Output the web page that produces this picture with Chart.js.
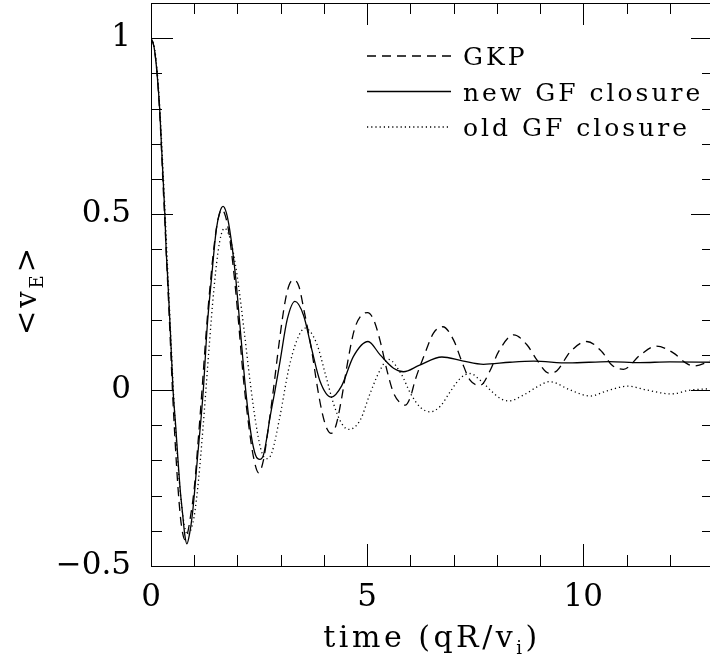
<!DOCTYPE html>
<html>
<head>
<meta charset="utf-8">
<script src="https://cdn.jsdelivr.net/npm/chart.js@4.4.1/dist/chart.umd.min.js"></script>
<style>
  html, body { margin: 0; padding: 0; background: #fff; overflow: hidden; }
  #wrap { width: 720px; height: 664px; }
</style>
</head>
<body>
<div id="wrap"><canvas id="plot" width="720" height="664"></canvas></div>
<script>
// values: time (qR/v_i) and <v_E>
const gkpTime = [
  0, 0.07, 0.14, 0.2, 0.24, 0.28, 0.32, 0.36, 0.41, 0.45,
  0.5, 0.56, 0.62, 0.68, 0.73, 0.78, 0.84, 0.9, 1.0, 1.1,
  1.18, 1.28, 1.37, 1.46, 1.55, 1.64, 1.72, 1.8, 1.93, 2.02,
  2.14, 2.25, 2.37, 2.49, 2.6, 2.7, 2.83, 2.97, 3.1, 3.2,
  3.31, 3.42, 3.55, 3.7, 3.86, 3.97, 4.07, 4.17, 4.28, 4.4,
  4.55, 4.7, 4.85, 5.01, 5.15, 5.3, 5.45, 5.6, 5.75, 5.88,
  6.0, 6.11, 6.34, 6.53, 6.75, 7.0, 7.19, 7.38, 7.62, 7.85,
  8.04, 8.39, 8.7, 8.93, 9.2, 9.39, 9.7, 10.08, 10.43, 10.66,
  10.93, 11.32, 11.69, 12.09, 12.36, 12.55, 12.9, 13
];
const gkpValue = [
  1.0, 0.975, 0.9, 0.79, 0.69, 0.58, 0.48, 0.37, 0.24, 0.13,
  -0.01, -0.15, -0.27, -0.36, -0.405, -0.425, -0.41, -0.37, -0.28, -0.13,
  0, 0.17, 0.3, 0.41, 0.485, 0.513, 0.495, 0.449, 0.318, 0.2,
  0.03, -0.09, -0.19, -0.235, -0.2, -0.12, 0, 0.14, 0.25, 0.3,
  0.313, 0.295, 0.22, 0.125, 0, -0.07, -0.11, -0.123, -0.1, -0.03,
  0.08, 0.17, 0.21, 0.22, 0.2, 0.14, 0.06, -0.005, -0.035, -0.043,
  -0.02, 0.028, 0.105, 0.161, 0.18, 0.142, 0.081, 0.028, 0.014, 0.057,
  0.109, 0.157, 0.128, 0.085, 0.048, 0.055, 0.109, 0.138, 0.109, 0.071,
  0.059, 0.1, 0.125, 0.105, 0.078, 0.068, 0.081, 0.086
];

const newTime = [
  0, 0.07, 0.14, 0.2, 0.24, 0.28, 0.32, 0.35, 0.39, 0.45,
  0.51, 0.57, 0.625, 0.68, 0.73, 0.78, 0.83, 0.89, 0.96, 1.07,
  1.21, 1.3, 1.4, 1.51, 1.59, 1.667, 1.74, 1.82, 1.95, 2.06,
  2.19, 2.32, 2.42, 2.52, 2.6, 2.67, 2.75, 2.87, 2.99, 3.15,
  3.33, 3.53, 3.72, 3.91, 4.17, 4.41, 4.68, 5.02, 5.3, 5.61,
  5.84, 6.2, 6.73, 7.2, 7.69, 8.3, 8.85, 9.66, 10.6, 11.3,
  12.0, 13.0
];
const newValue = [
  1.0, 0.975, 0.9, 0.8, 0.7, 0.6, 0.5, 0.4, 0.31, 0.16,
  0, -0.1, -0.2, -0.29, -0.35, -0.41, -0.437, -0.41, -0.35, -0.2,
  0, 0.18, 0.318, 0.456, 0.505, 0.522, 0.505, 0.456, 0.33, 0.18,
  0, -0.13, -0.185, -0.197, -0.185, -0.142, -0.08, 0, 0.085, 0.2,
  0.252, 0.212, 0.115, 0.025, -0.02, 0.012, 0.095, 0.138, 0.1, 0.062,
  0.052, 0.07, 0.094, 0.083, 0.073, 0.079, 0.082, 0.077, 0.081, 0.078,
  0.08, 0.079
];

const oldTime = [
  0, 0.07, 0.14, 0.2, 0.24, 0.28, 0.32, 0.36, 0.41, 0.47,
  0.53, 0.6, 0.67, 0.74, 0.8, 0.87, 0.94, 1.0, 1.1, 1.2,
  1.27, 1.35, 1.45, 1.55, 1.62, 1.7, 1.78, 1.87, 2.0, 2.15,
  2.3, 2.45, 2.57, 2.68, 2.79, 2.99, 3.18, 3.37, 3.56, 3.83,
  4.03, 4.22, 4.41, 4.58, 4.84, 5.07, 5.3, 5.49, 5.8, 6.0,
  6.23, 6.46, 6.69, 6.92, 7.15, 7.38, 7.65, 7.89, 8.08, 8.27,
  8.62, 8.93, 9.22, 9.7, 10.16, 10.55, 11.03, 11.47, 12.03, 12.48,
  13
];
const oldValue = [
  1.0, 0.98, 0.91, 0.81, 0.72, 0.62, 0.52, 0.41, 0.28, 0.12,
  -0.03, -0.17, -0.28, -0.36, -0.4, -0.41, -0.39, -0.358, -0.255, -0.112,
  0, 0.131, 0.28, 0.392, 0.44, 0.46, 0.448, 0.412, 0.319, 0.173,
  0.017, -0.113, -0.18, -0.195, -0.18, -0.07, 0.057, 0.14, 0.176, 0.133,
  0.047, -0.038, -0.095, -0.112, -0.085, -0.009, 0.057, 0.087, 0.043, -0.009,
  -0.049, -0.062, -0.046, -0.005, 0.033, 0.047, 0.024, -0.005, -0.024, -0.031,
  -0.014, 0.009, 0.024, 0, -0.017, -0.002, 0.011, 0, -0.011, 0,
  0.004
];

const seriesLabels = ["GKP", "new GF closure", "old GF closure"];
const xTickLabels = [0, 5, 10];
const yTickLabels = [-0.5, 0, 0.5, 1];

const FONT = '"DejaVu Serif", "Liberation Serif", serif';

function toPoints(times, values) {
    return times.map((t, i) => ({ x: t, y: values[i] }));
}

function lineSet(label, times, values, dash) {
    return {
        label: label,
        data: toPoints(times, values),
        borderColor: "#000",
        borderWidth: 1.3,
        borderDash: dash,
        pointRadius: 0,
        cubicInterpolationMode: "monotone",
        fill: false
    };
}

// draws text pieces one after another, pieces may be lowered (subscripts)
function drawPieces(ctx, pieces, x, y) {
    let cx = x;
    pieces.forEach(p => {
        ctx.font = p.size + "px " + FONT;
        ctx.fillText(p.text, cx, y + (p.dy || 0));
        cx += ctx.measureText(p.text).width;
    });
}

function piecesWidth(ctx, pieces) {
    let w = 0;
    pieces.forEach(p => {
        ctx.font = p.size + "px " + FONT;
        w += ctx.measureText(p.text).width;
    });
    return w;
}

// keep the plot box where the figure has it: no room kept for edge labels
function noEdgePadding(s) {
    s.paddingTop = 0;
    s.paddingBottom = 0;
    s.paddingLeft = 0;
    s.paddingRight = 0;
}

const framePlugin = {
    id: "frame",
    afterDraw(chart) {
        const ctx = chart.ctx;
        const area = chart.chartArea;
        const xs = chart.scales.x;
        const ys = chart.scales.y;

        ctx.save();
        ctx.strokeStyle = "#000";
        ctx.lineWidth = 1;
        ctx.strokeRect(area.left + 0.5, area.top + 0.5, area.right - area.left, area.bottom - area.top);

        // inward ticks on all four sides
        xs.ticks.forEach(t => {
            const px = Math.round(xs.getPixelForValue(t.value)) + 0.5;
            const len = xTickLabels.includes(t.value) ? 22 : 11;
            ctx.beginPath();
            ctx.moveTo(px, area.bottom);
            ctx.lineTo(px, area.bottom - len);
            ctx.moveTo(px, area.top);
            ctx.lineTo(px, area.top + len);
            ctx.stroke();
        });
        ys.ticks.forEach(t => {
            const py = Math.round(ys.getPixelForValue(t.value)) + 0.5;
            const major = yTickLabels.some(v => Math.abs(v - t.value) < 1e-6);
            const len = major ? 22 : 11;
            ctx.beginPath();
            ctx.moveTo(area.left, py);
            ctx.lineTo(area.left + len, py);
            ctx.moveTo(area.right, py);
            ctx.lineTo(area.right - len, py);
            ctx.stroke();
        });

        // legend
        ctx.fillStyle = "#000";
        ctx.letterSpacing = "3px";
        chart.data.datasets.forEach((ds, i) => {
            const y = 56 + i * 35.5;
            ctx.save();
            ctx.lineWidth = ds.borderWidth;
            ctx.setLineDash(ds.borderDash);
            ctx.beginPath();
            ctx.moveTo(367, y);
            ctx.lineTo(451, y);
            ctx.stroke();
            ctx.restore();
            ctx.font = "25px " + FONT;
            ctx.textBaseline = "alphabetic";
            ctx.textAlign = "left";
            ctx.fillText(ds.label, 463, y + 9);
        });

        // x title
        ctx.letterSpacing = "3.5px";
        const xt = [
            { text: "time (qR/v", size: 30 },
            { text: "i", size: 18, dy: 7 },
            { text: ")", size: 30 }
        ];
        const cxMid = (area.left + area.right) / 2;
        drawPieces(ctx, xt, cxMid - piecesWidth(ctx, xt) / 2, 647);

        // y title, rotated
        ctx.letterSpacing = "3px";
        const yt = [
            { text: "<v", size: 29 },
            { text: "E", size: 18, dy: 7 },
            { text: ">", size: 29 }
        ];
        ctx.save();
        ctx.translate(36, 290);
        ctx.rotate(-Math.PI / 2);
        drawPieces(ctx, yt, -piecesWidth(ctx, yt) / 2, 0);
        ctx.restore();
        ctx.restore();
    }
};

new Chart(document.getElementById("plot"), {
    type: "line",
    data: {
        datasets: [
            lineSet(seriesLabels[0], gkpTime, gkpValue, [9, 6]),
            lineSet(seriesLabels[1], newTime, newValue, []),
            lineSet(seriesLabels[2], oldTime, oldValue, [1.2, 3])
        ]
    },
    options: {
        responsive: false,
        animation: false,
        devicePixelRatio: 1,
        layout: { padding: { top: 3, right: 7, bottom: 0, left: 0 } },
        plugins: {
            legend: { display: false },
            tooltip: { enabled: false }
        },
        scales: {
            x: {
                type: "linear",
                min: 0,
                max: 13,
                afterFit: s => { s.height = 98; noEdgePadding(s); },
                grid: { display: false, drawTicks: false },
                border: { display: true, color: "#000", width: 1 },
                ticks: {
                    stepSize: 1,
                    padding: 13,
                    color: "#000",
                    font: { family: FONT, size: 31 },
                    maxRotation: 0,
                    autoSkip: false,
                    callback: v => xTickLabels.includes(v) ? String(v) : ""
                }
            },
            y: {
                type: "linear",
                min: -0.5,
                max: 1.1,
                afterFit: s => { s.width = 151; noEdgePadding(s); },
                grid: { display: false, drawTicks: false },
                border: { display: true, color: "#000", width: 1 },
                ticks: {
                    stepSize: 0.1,
                    padding: 20,
                    color: "#000",
                    font: { family: FONT, size: 31 },
                    autoSkip: false,
                    callback: v => {
                        const hit = yTickLabels.find(l => Math.abs(l - v) < 1e-6);
                        if (hit === undefined) return "";
                        return hit < 0 ? "\u2212" + Math.abs(hit) : String(hit);
                    }
                }
            }
        }
    },
    plugins: [framePlugin]
});
</script>
</body>
</html>
